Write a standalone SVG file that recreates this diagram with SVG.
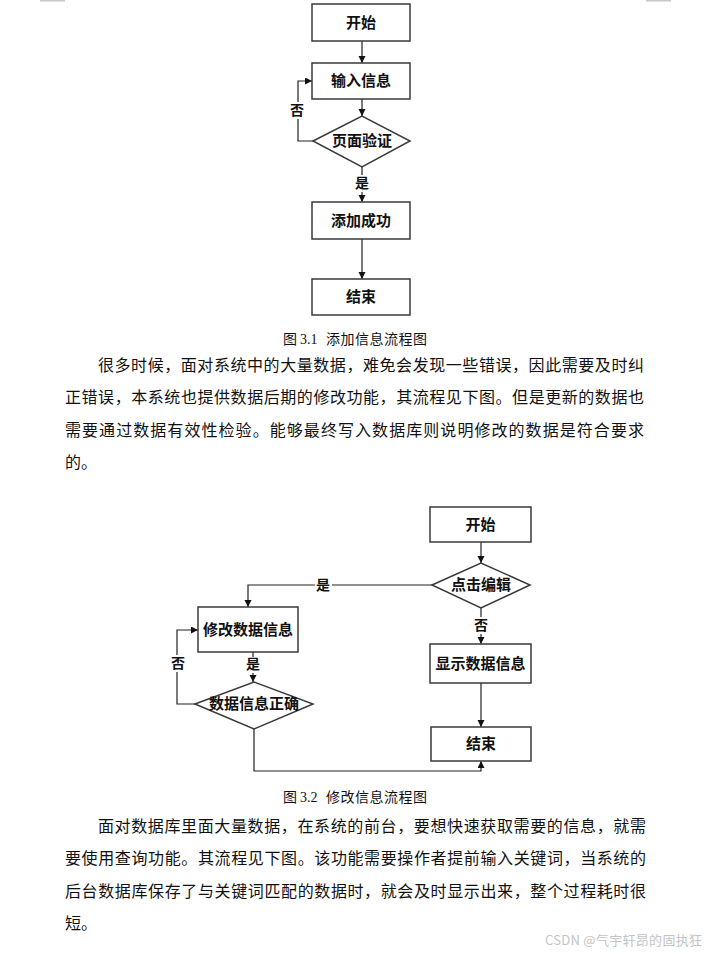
<svg xmlns="http://www.w3.org/2000/svg" width="711" height="954" viewBox="0 0 711 954">
<defs>
<marker id="ah" markerUnits="userSpaceOnUse" markerWidth="8" markerHeight="8" refX="7" refY="3.5" orient="auto">
<path d="M0,0 L7,3.5 L0,7 z" fill="#111"/>
</marker>
<style>
.box{fill:#fff;stroke:#3a3a3a;stroke-width:1.5}
.ln{fill:none;stroke:#222;stroke-width:1.2}
.nt{font-family:"Liberation Serif","Noto Sans CJK SC",serif;font-weight:bold;font-size:15px;fill:#111;text-anchor:middle;dominant-baseline:central}
.lb{font-family:"Liberation Serif","Noto Sans CJK SC",serif;font-weight:bold;font-size:14px;fill:#111;text-anchor:middle;dominant-baseline:central}
.bg{fill:#fff}
.p{font-family:"Noto Sans CJK SC",sans-serif;font-size:16px;fill:#111}
.cap{font-family:"Noto Sans CJK SC",sans-serif;font-size:14px;fill:#111}
.capn{font-family:"Liberation Serif",serif;font-size:14px;fill:#111}
</style>
</defs>
<rect width="711" height="954" fill="#fff"/>
<rect x="40" y="0" width="25" height="1.5" fill="#c8c8c8"/>
<rect x="646" y="0" width="25" height="1.5" fill="#c8c8c8"/>

<g id="connectors">
<!-- diagram 1 -->
<line class="ln" x1="362" y1="41" x2="362" y2="63" marker-end="url(#ah)"/>
<line class="ln" x1="362" y1="99" x2="362" y2="116" marker-end="url(#ah)"/>
<polyline class="ln" points="313,141 298,141 298,81 312,81" marker-end="url(#ah)"/>
<line class="ln" x1="362" y1="167" x2="362" y2="202" marker-end="url(#ah)"/>
<line class="ln" x1="362" y1="239" x2="362" y2="279" marker-end="url(#ah)"/>
<rect class="bg" x="290" y="102" width="15" height="17"/>
<text class="lb" x="297" y="110">否</text>
<rect class="bg" x="354" y="175" width="16" height="17"/>
<text class="lb" x="362" y="183">是</text>
<!-- diagram 2 -->
<line class="ln" x1="481" y1="542" x2="481" y2="563" marker-end="url(#ah)"/>
<polyline class="ln" points="432,585 248,585 248,607" marker-end="url(#ah)"/>
<line class="ln" x1="481" y1="608" x2="481" y2="644" marker-end="url(#ah)"/>
<line class="ln" x1="481" y1="683" x2="481" y2="727" marker-end="url(#ah)"/>
<line class="ln" x1="253" y1="652" x2="253" y2="682" marker-end="url(#ah)"/>
<polyline class="ln" points="195,704 177,704 177,630 198,630" marker-end="url(#ah)"/>
<polyline class="ln" points="254,729 254,771 481,771 481,761" marker-end="url(#ah)"/>
<rect class="bg" x="315" y="577" width="17" height="16"/>
<text class="lb" x="323" y="585">是</text>
<rect class="bg" x="473" y="617" width="16" height="17"/>
<text class="lb" x="481" y="625">否</text>
<rect class="bg" x="245" y="657" width="16" height="16"/>
<text class="lb" x="253" y="664">是</text>
<rect class="bg" x="170" y="655" width="16" height="17"/>
<text class="lb" x="178" y="663">否</text>
</g>

<g id="n1-start"><rect class="box" x="312" y="4" width="98" height="37"/><text class="nt" x="361" y="22.5">开始</text></g>
<g id="n1-input"><rect class="box" x="312" y="63" width="98" height="36"/><text class="nt" x="361" y="81">输入信息</text></g>
<g id="n1-check"><polygon class="box" points="313,141 362,116 410,141 362,167"/><text class="nt" x="362" y="141">页面验证</text></g>
<g id="n1-ok"><rect class="box" x="312" y="202" width="98" height="37"/><text class="nt" x="361" y="220.5">添加成功</text></g>
<g id="n1-end"><rect class="box" x="312" y="279" width="98" height="36"/><text class="nt" x="361" y="297">结束</text></g>

<g id="n2-start"><rect class="box" x="430" y="507" width="101" height="35"/><text class="nt" x="480.5" y="524.5">开始</text></g>
<g id="n2-click"><polygon class="box" points="432,585 481,563 530,585 481,608"/><text class="nt" x="481" y="585">点击编辑</text></g>
<g id="n2-edit"><rect class="box" x="198" y="607" width="100" height="45"/><text class="nt" x="248" y="630">修改数据信息</text></g>
<g id="n2-valid"><polygon class="box" points="195,704 254,682 313,704 254,729"/><text class="nt" x="254" y="704">数据信息正确</text></g>
<g id="n2-show"><rect class="box" x="430" y="644" width="101" height="39"/><text class="nt" x="480.5" y="663.5">显示数据信息</text></g>
<g id="n2-end"><rect class="box" x="431" y="727" width="100" height="34"/><text class="nt" x="481" y="744">结束</text></g>

<text class="cap" x="283" y="344">图</text><text class="capn" x="300" y="344">3.1</text><text class="cap" x="326" y="344" textLength="101" lengthAdjust="spacing">添加信息流程图</text>

<text class="p" x="98" y="371" textLength="546" lengthAdjust="spacing">很多时候，面对系统中的大量数据，难免会发现一些错误，因此需要及时纠</text>
<text class="p" x="65" y="403" textLength="579" lengthAdjust="spacing">正错误，本系统也提供数据后期的修改功能，其流程见下图。但是更新的数据也</text>
<text class="p" x="65" y="436" textLength="579" lengthAdjust="spacing">需要通过数据有效性检验。能够最终写入数据库则说明修改的数据是符合要求</text>
<text class="p" x="65" y="468">的。</text>

<text class="cap" x="283" y="802">图</text><text class="capn" x="300" y="802">3.2</text><text class="cap" x="326" y="802" textLength="101" lengthAdjust="spacing">修改信息流程图</text>

<text class="p" x="98" y="832" textLength="548" lengthAdjust="spacing">面对数据库里面大量数据，在系统的前台，要想快速获取需要的信息，就需</text>
<text class="p" x="65" y="864" textLength="581" lengthAdjust="spacing">要使用查询功能。其流程见下图。该功能需要操作者提前输入关键词，当系统的</text>
<text class="p" x="65" y="897" textLength="581" lengthAdjust="spacing">后台数据库保存了与关键词匹配的数据时，就会及时显示出来，整个过程耗时很</text>
<text class="p" x="65" y="929">短。</text>

<text x="545" y="945" font-family="Noto Sans CJK SC,sans-serif" font-size="13" fill="#c4c4c4" textLength="157" lengthAdjust="spacing">CSDN @气宇轩昂的固执狂</text>
</svg>
